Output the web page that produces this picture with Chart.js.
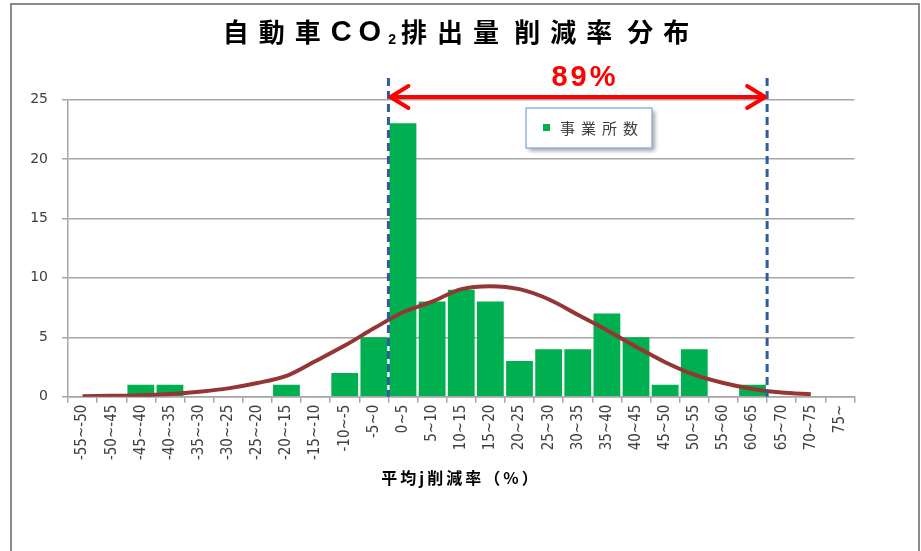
<!DOCTYPE html>
<html>
<head>
<meta charset="utf-8">
<script src="https://cdn.jsdelivr.net/npm/chart.js@4"></script>
<style>
  body { margin: 0; background: #fff; }
  canvas { display: block; }
</style>
</head>
<body>
<canvas id="grafico" width="921" height="551"></canvas>
<script>
// categorias del eje x (rango de reduccion, %)
const categorias = ['-55~-50', '-50~-45', '-45~-40', '-40~-35', '-35~-30', '-30~-25', '-25~-20', '-20~-15', '-15~-10', '-10~-5', '-5~0',
    '0~5', '5~10', '10~15', '15~20', '20~25', '25~30', '30~35', '35~40', '40~45', '45~50', '50~55', '55~60', '60~65', '65~70', '70~75', '75~'];

// numero de establecimientos por rango
const conteos = [0, 0, 1, 1, 0, 0, 0, 1, 0, 2, 5, 23, 8, 9, 8, 3, 4, 4, 7, 5, 1, 4, 0, 1, 0, 0, 0];

// curva aproximada
const curva = [0.04, 0.07, 0.12, 0.23, 0.42, 0.7, 1.15, 1.75, 3.0, 4.3, 5.75, 7.1, 8.0, 9.05, 9.3, 9.05, 8.2, 6.9, 5.6, 4.2, 2.9, 1.85, 1.15, 0.65, 0.35, 0.2, null];

const ticksY = [0, 5, 10, 15, 20, 25];

// titulo en tramos: [texto, tipo]
const titulo = [['自動車', 'cjk'], ['CO', 'lat'], ['2', 'sub'], ['排出量', 'cjk'], ['\u2009', 'esp'],
    ['削減率', 'cjk'], ['\u2009', 'esp'], ['分布', 'cjk']];
const tituloEjeX = '平均j削減率（%）';
const leyenda = '事業所数';
const porcentaje = '89%';
// limites de la flecha (indices de categoria: entre -5~0 / 0~5 y entre 60~65 / 65~70)
const limiteIzq = 10.5;
const limiteDer = 23.5;

const gris = '#A6A6A6';
const verde = '#00B050';

const estilosTitulo = {
    cjk: { font: "bold 26px 'Noto Sans CJK JP'", ls: '10px', dy: 0 },
    esp: { font: "bold 26px 'Noto Sans CJK JP'", ls: '0px', dy: 0 },
    lat: { font: "bold 29px 'Liberation Sans'", ls: '7px', dy: 1 },
    sub: { font: "bold 14px 'Liberation Sans'", ls: '5px', dy: 8 }
};

function dibujarTitulo(ctx, centroX, yy) {
    let total = 0;
    const anchos = titulo.map(([t, tipo]) => {
        const e = estilosTitulo[tipo];
        ctx.font = e.font;
        ctx.letterSpacing = e.ls;
        const w = ctx.measureText(t).width;
        total += w;
        return w;
    });
    let xx = centroX - total / 2;
    ctx.textAlign = 'left';
    titulo.forEach(([t, tipo], i) => {
        const e = estilosTitulo[tipo];
        ctx.font = e.font;
        ctx.letterSpacing = e.ls;
        ctx.fillText(t, xx, yy + e.dy);
        xx += anchos[i];
    });
    ctx.letterSpacing = '0px';
}

const decoracion = {
    id: 'decoracion',
    afterDatasetsDraw(chart) {
        const ctx = chart.ctx;
        const x = chart.scales.x;
        const y = chart.scales.y;
        const px = v => (x.getPixelForValue(Math.floor(v)) + x.getPixelForValue(Math.ceil(v))) / 2;
        const xIzq = px(limiteIzq);
        const xDer = px(limiteDer);

        ctx.save();

        // marco
        ctx.strokeStyle = '#8C8C8C';
        ctx.lineWidth = 2;
        ctx.beginPath();
        ctx.moveTo(11, 551);
        ctx.lineTo(11, 4);
        ctx.lineTo(919, 4);
        ctx.lineTo(919, 551);
        ctx.stroke();

        // titulo
        ctx.fillStyle = '#000';
        ctx.textBaseline = 'middle';
        dibujarTitulo(ctx, 461, 32);

        // lineas discontinuas
        ctx.strokeStyle = '#2E5B99';
        ctx.lineWidth = 3;
        ctx.setLineDash([8, 5]);
        [xIzq, xDer].forEach(xx => {
            ctx.beginPath();
            ctx.moveTo(xx, 78);
            ctx.lineTo(xx, y.getPixelForValue(0));
            ctx.stroke();
        });
        ctx.setLineDash([]);

        // flecha doble
        const yf = 97;
        ctx.strokeStyle = '#FF0000';
        ctx.lineWidth = 4;
        ctx.lineCap = 'round';
        ctx.lineJoin = 'round';
        ctx.beginPath();
        ctx.moveTo(xIzq + 2, yf);
        ctx.lineTo(xDer - 2, yf);
        ctx.moveTo(xIzq + 20, yf - 11);
        ctx.lineTo(xIzq + 2, yf);
        ctx.lineTo(xIzq + 20, yf + 11);
        ctx.moveTo(xDer - 20, yf - 11);
        ctx.lineTo(xDer - 2, yf);
        ctx.lineTo(xDer - 20, yf + 11);
        ctx.stroke();

        ctx.fillStyle = '#FF0000';
        ctx.font = "bold 29px 'Liberation Sans'";
        ctx.letterSpacing = '3px';
        ctx.textAlign = 'center';
        ctx.fillText(porcentaje, 585, 78);
        ctx.letterSpacing = '0px';

        // leyenda
        ctx.save();
        ctx.shadowColor = 'rgba(0,0,0,0.35)';
        ctx.shadowOffsetX = 3;
        ctx.shadowOffsetY = 3;
        ctx.shadowBlur = 4;
        ctx.fillStyle = '#fff';
        ctx.fillRect(526, 108, 126, 40);
        ctx.restore();
        ctx.strokeStyle = '#8EB4E3';
        ctx.lineWidth = 1.5;
        ctx.strokeRect(526, 108, 126, 40);
        ctx.fillStyle = verde;
        ctx.fillRect(543, 124, 7, 7);
        ctx.fillStyle = '#404040';
        ctx.font = "15px 'Noto Sans CJK JP'";
        ctx.letterSpacing = '6px';
        ctx.textAlign = 'left';
        ctx.fillText(leyenda, 560, 128);
        ctx.letterSpacing = '0px';

        // titulo del eje x
        ctx.fillStyle = '#000';
        ctx.font = "bold 16px 'Noto Sans CJK JP'";
        ctx.letterSpacing = '3px';
        ctx.textAlign = 'center';
        ctx.fillText(tituloEjeX, 461, 478);

        ctx.restore();
    }
};

new Chart(document.getElementById('grafico').getContext('2d'), {
    type: 'bar',
    data: {
        labels: categorias,
        datasets: [
            {
                type: 'line',
                label: 'curva',
                data: curva,
                borderColor: '#943634',
                borderWidth: 4,
                pointRadius: 0,
                tension: 0.3,
                order: 0
            },
            {
                type: 'bar',
                label: leyenda,
                data: conteos,
                backgroundColor: verde,
                categoryPercentage: 1,
                barPercentage: 0.92,
                order: 1
            }
        ]
    },
    options: {
        responsive: false,
        animation: false,
        layout: { padding: { top: 99.5, right: 66.5, left: 0, bottom: 0 } },
        plugins: {
            legend: { display: false },
            title: { display: false },
            tooltip: { enabled: false }
        },
        scales: {
            x: {
                grid: { offset: true, drawOnChartArea: false, drawTicks: true, tickLength: 6, color: gris, lineWidth: 1.5 },
                border: { color: gris, width: 1.5 },
                ticks: {
                    autoSkip: false,
                    minRotation: 90,
                    maxRotation: 90,
                    padding: 2,
                    color: '#404040',
                    font: { family: 'DejaVu Sans Condensed', size: 15 }
                },
                afterFit: s => { s.height = 154.3; }
            },
            y: {
                min: 0,
                max: 25,
                afterBuildTicks: s => { s.ticks = ticksY.map(v => ({ value: v })); },
                grid: { color: gris, lineWidth: 1.5, tickLength: 6 },
                border: { color: gris, width: 1.5 },
                ticks: {
                    padding: 14,
                    color: '#404040',
                    font: { family: 'DejaVu Sans', size: 14 }
                },
                afterFit: s => { s.width = 68; }
            }
        }
    },
    plugins: [decoracion]
});
</script>
</body>
</html>
